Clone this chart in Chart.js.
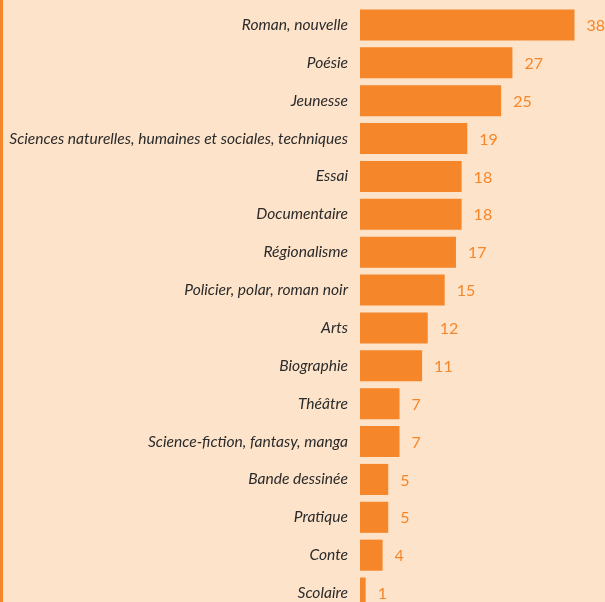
<!DOCTYPE html>
<html>
<head>
<meta charset="utf-8">
<script src="https://cdn.jsdelivr.net/npm/chart.js@4"></script>
<style>
  html, body { margin: 0; padding: 0; }
  body { width: 605px; height: 602px; overflow: hidden; background: #fde3ca; position: relative; }
  #leftLine { position: absolute; left: 0; top: 0; width: 3px; height: 602px; background: #f58629; z-index: 2; }
  #genreChart { position: absolute; left: 0; top: 0; }
</style>
</head>
<body>
<div id="leftLine"></div>
<canvas id="genreChart" width="605" height="612"></canvas>
<script>
  // Genres and counts
  const genres = [
    'Roman, nouvelle',
    'Poésie',
    'Jeunesse',
    'Sciences naturelles, humaines et sociales, techniques',
    'Essai',
    'Documentaire',
    'Régionalisme',
    'Policier, polar, roman noir',
    'Arts',
    'Biographie',
    'Théâtre',
    'Science-fiction, fantasy, manga',
    'Bande dessinée',
    'Pratique',
    'Conte',
    'Scolaire'
  ];
  const counts = [38, 27, 25, 19, 18, 18, 17, 15, 12, 11, 7, 7, 5, 5, 4, 1];

  const orange = '#f58629';

  // Draw the value next to each bar
  const valueLabels = {
    id: 'valueLabels',
    afterDatasetsDraw(chart) {
      const ctx = chart.ctx;
      const meta = chart.getDatasetMeta(0);
      ctx.save();
      ctx.font = '16px Lato';
      ctx.fillStyle = orange;
      ctx.textAlign = 'left';
      ctx.textBaseline = 'middle';
      meta.data.forEach(function(bar, i) {
        ctx.fillText(String(counts[i]), bar.x + 12, bar.y + 1);
      });
      ctx.restore();
    }
  };

  const ctx = document.getElementById('genreChart').getContext('2d');
  const genreChart = new Chart(ctx, {
    type: 'bar',
    data: {
      labels: genres,
      datasets: [{
        data: counts,
        backgroundColor: orange,
        borderWidth: 0,
        categoryPercentage: 1,
        barPercentage: 0.82
      }]
    },
    options: {
      indexAxis: 'y',
      responsive: false,
      animation: false,
      layout: { padding: { top: 6, bottom: 0, left: 0, right: 0 } },
      plugins: {
        legend: { display: false },
        tooltip: { enabled: false }
      },
      scales: {
        x: {
          display: false,
          min: 0,
          max: 43.4
        },
        y: {
          afterFit: function(scale) {
            scale.width = 360;
            scale.paddingTop = 0;
            scale.paddingBottom = 0;
          },
          grid: { display: false, drawTicks: false },
          border: { display: false },
          ticks: {
            autoSkip: false,
            padding: 12,
            color: '#2b2b2b',
            font: { family: 'Lato', size: 15.6, style: 'italic' }
          }
        }
      }
    },
    plugins: [valueLabels]
  });
</script>
</body>
</html>
